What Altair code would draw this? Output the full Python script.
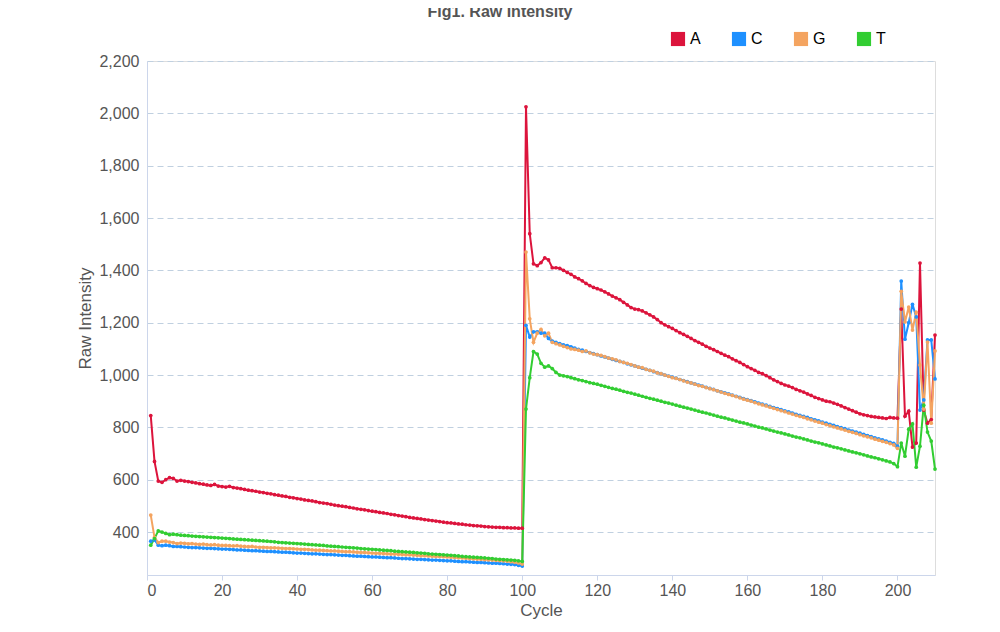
import altair as alt
import pandas as pd

A = [845,670,595,590,600,608,605,595,598,595,
593,590,588,585,583,580,578,582,576,574,
572,575,570,568,566,563,560,558,556,553,
551,548,546,543,541,538,536,533,531,528,
526,523,521,519,516,513,511,509,506,503,
501,499,497,494,492,489,487,485,482,480,
478,475,473,471,468,466,463,461,459,456,
454,452,450,448,446,444,442,440,438,436,
435,433,431,430,428,427,425,424,423,421,
420,419,418,418,417,417,416,416,415,415,
2025,1540,1425,1418,1430,1448,1440,1410,1410,1408,
1400,1392,1385,1375,1368,1360,1350,1342,1335,1330,
1325,1318,1310,1302,1295,1288,1278,1268,1258,1252,
1250,1245,1238,1230,1222,1212,1200,1192,1185,1178,
1170,1162,1155,1148,1140,1132,1125,1118,1110,1103,
1097,1090,1083,1076,1070,1062,1055,1048,1040,1032,
1025,1018,1010,1005,998,990,982,975,968,962,
958,952,945,940,935,928,922,915,910,905,
900,898,893,888,882,876,870,864,858,852,
848,845,842,840,838,836,834,838,836,835,
1252,843,862,725,740,1428,866,816,830,1153]

C = [365,370,350,348,350,348,345,345,344,343,
342,341,341,340,339,338,338,337,336,335,
335,334,333,332,332,331,330,329,329,328,
327,326,326,325,324,323,323,322,321,320,
320,319,318,317,317,316,315,314,314,313,
312,311,311,310,309,308,308,307,306,305,
305,304,303,302,302,301,300,299,299,298,
297,296,296,295,294,293,293,292,291,290,
290,289,288,287,287,286,285,284,284,283,
282,281,281,280,279,278,277,276,273,270,
1190,1145,1165,1165,1160,1160,1140,1130,1125,1120,
1115,1112,1108,1103,1098,1095,1090,1086,1082,1078,
1073,1069,1065,1060,1056,1052,1048,1043,1039,1035,
1030,1026,1022,1018,1013,1009,1005,1000,996,992,
988,983,979,975,970,966,962,958,953,949,
945,940,936,932,928,923,919,915,910,906,
902,898,893,889,885,880,876,872,868,863,
859,855,850,846,842,838,833,829,825,820,
816,812,808,803,799,795,790,786,782,778,
773,769,765,760,756,752,748,743,739,728,
1359,1137,1200,1270,1222,866,905,1134,1134,985]

G = [465,380,360,365,365,362,360,356,358,357,
355,356,354,353,354,352,351,352,350,349,
349,348,347,348,346,345,344,345,343,342,
342,341,340,340,339,338,337,337,336,335,
334,334,333,332,331,331,330,329,328,328,
327,326,325,325,324,323,322,322,321,320,
319,319,318,317,316,316,315,314,313,313,
312,311,310,310,309,308,307,307,306,305,
304,303,302,301,300,299,298,297,296,295,
294,293,292,291,290,289,287,285,282,278,
1470,1215,1125,1160,1175,1150,1160,1125,1120,1115,
1110,1105,1100,1098,1095,1090,1092,1085,1080,1078,
1075,1070,1065,1062,1058,1052,1048,1045,1040,1035,
1030,1028,1022,1018,1015,1008,1005,1000,995,990,
987,983,978,973,970,965,960,957,952,948,
944,940,935,930,926,922,918,913,908,904,
900,895,890,886,882,877,873,868,864,860,
855,851,846,842,838,833,829,824,820,816,
811,807,802,798,794,790,785,781,777,772,
768,764,760,755,751,747,743,738,733,720,
1320,1203,1260,1172,1240,1038,870,1126,816,1092]

T = [350,375,405,400,395,390,392,390,388,387,
386,385,384,383,382,381,380,379,378,377,
376,375,374,373,372,371,370,369,368,367,
366,365,364,363,361,360,359,358,357,356,
355,354,353,352,351,350,349,347,346,345,
344,343,342,341,340,339,337,336,335,334,
333,332,331,330,329,327,326,325,324,323,
322,321,320,319,317,316,315,314,313,312,
311,310,309,307,306,305,304,303,302,301,
300,299,297,296,295,294,293,292,290,288,
870,990,1090,1080,1045,1030,1035,1025,1010,1000,
997,994,990,986,982,979,975,971,968,965,
961,957,953,949,946,942,938,934,931,927,
923,919,915,911,908,904,900,896,893,889,
885,881,877,874,870,866,862,858,855,851,
847,843,839,836,832,828,824,820,817,813,
809,805,801,798,794,790,786,782,779,775,
771,767,763,760,756,752,748,744,741,737,
733,729,725,722,718,714,710,706,703,699,
695,691,687,684,680,676,672,668,662,650,
740,690,793,813,648,728,885,782,748,641]

series = {"A": A, "C": C, "G": G, "T": T}
rows = []
for k, vals in series.items():
    for i, v in enumerate(vals):
        rows.append({"Cycle": i + 1, "Raw Intensity": v, "Base": k})
df = pd.DataFrame(rows)

color = alt.Color("Base:N",
    scale=alt.Scale(domain=["A", "C", "G", "T"],
                    range=["#DC143C", "#1E90FF", "#F4A460", "#32CD32"]),
    legend=alt.Legend(title=None, orient="none", legendX=523, legendY=-30,
                      direction="horizontal", symbolType="square", symbolSize=200,
                      symbolStrokeWidth=0, labelFontSize=16, labelColor="#000",
                      columnPadding=30, labelFont="Liberation Sans"))

base = alt.Chart(df).encode(
    x=alt.X("Cycle:Q", scale=alt.Scale(domain=[0, 210], nice=False),
            axis=alt.Axis(values=list(range(0, 220, 20)), grid=False,
                          titleFontSize=17, titleFontWeight="normal", titleColor="#555",
                          labelFontSize=16, labelColor="#555", domainColor="#ccd6eb",
                          tickColor="#ccd6eb")),
    y=alt.Y("Raw Intensity:Q", scale=alt.Scale(domain=[236, 2200], nice=False),
            axis=alt.Axis(values=list(range(400, 2400, 200)), format=",d",
                          gridDash=[6, 4], gridColor="#c0d0e0",
                          titleFontSize=17, titleFontWeight="normal", titleColor="#555",
                          labelFontSize=16, labelColor="#555", domainColor="#ccd6eb",
                          ticks=False, labelPadding=8)),
    color=color,
)

title = alt.Chart(pd.DataFrame({"t": ["Fig1. Raw Intensity"]})).mark_text(
    fontSize=16, fontWeight="bold", color="#555", font="Liberation Sans",
    align="center", baseline="middle"
).encode(text="t:N", x=alt.value(353), y=alt.value(-49))

chart = alt.layer(
    base.mark_line(strokeWidth=2),
    base.mark_point(filled=True, size=14, opacity=1),
    title,
).properties(
    width=788, height=514,
    autosize=alt.AutoSizeParams(type="none"),
    padding={"left": 139, "top": 53, "right": 5, "bottom": 55},
).configure_view(stroke=None).configure(font="Liberation Sans")

chart.save("out.html", embed_options={"renderer": "svg", "actions": False})
